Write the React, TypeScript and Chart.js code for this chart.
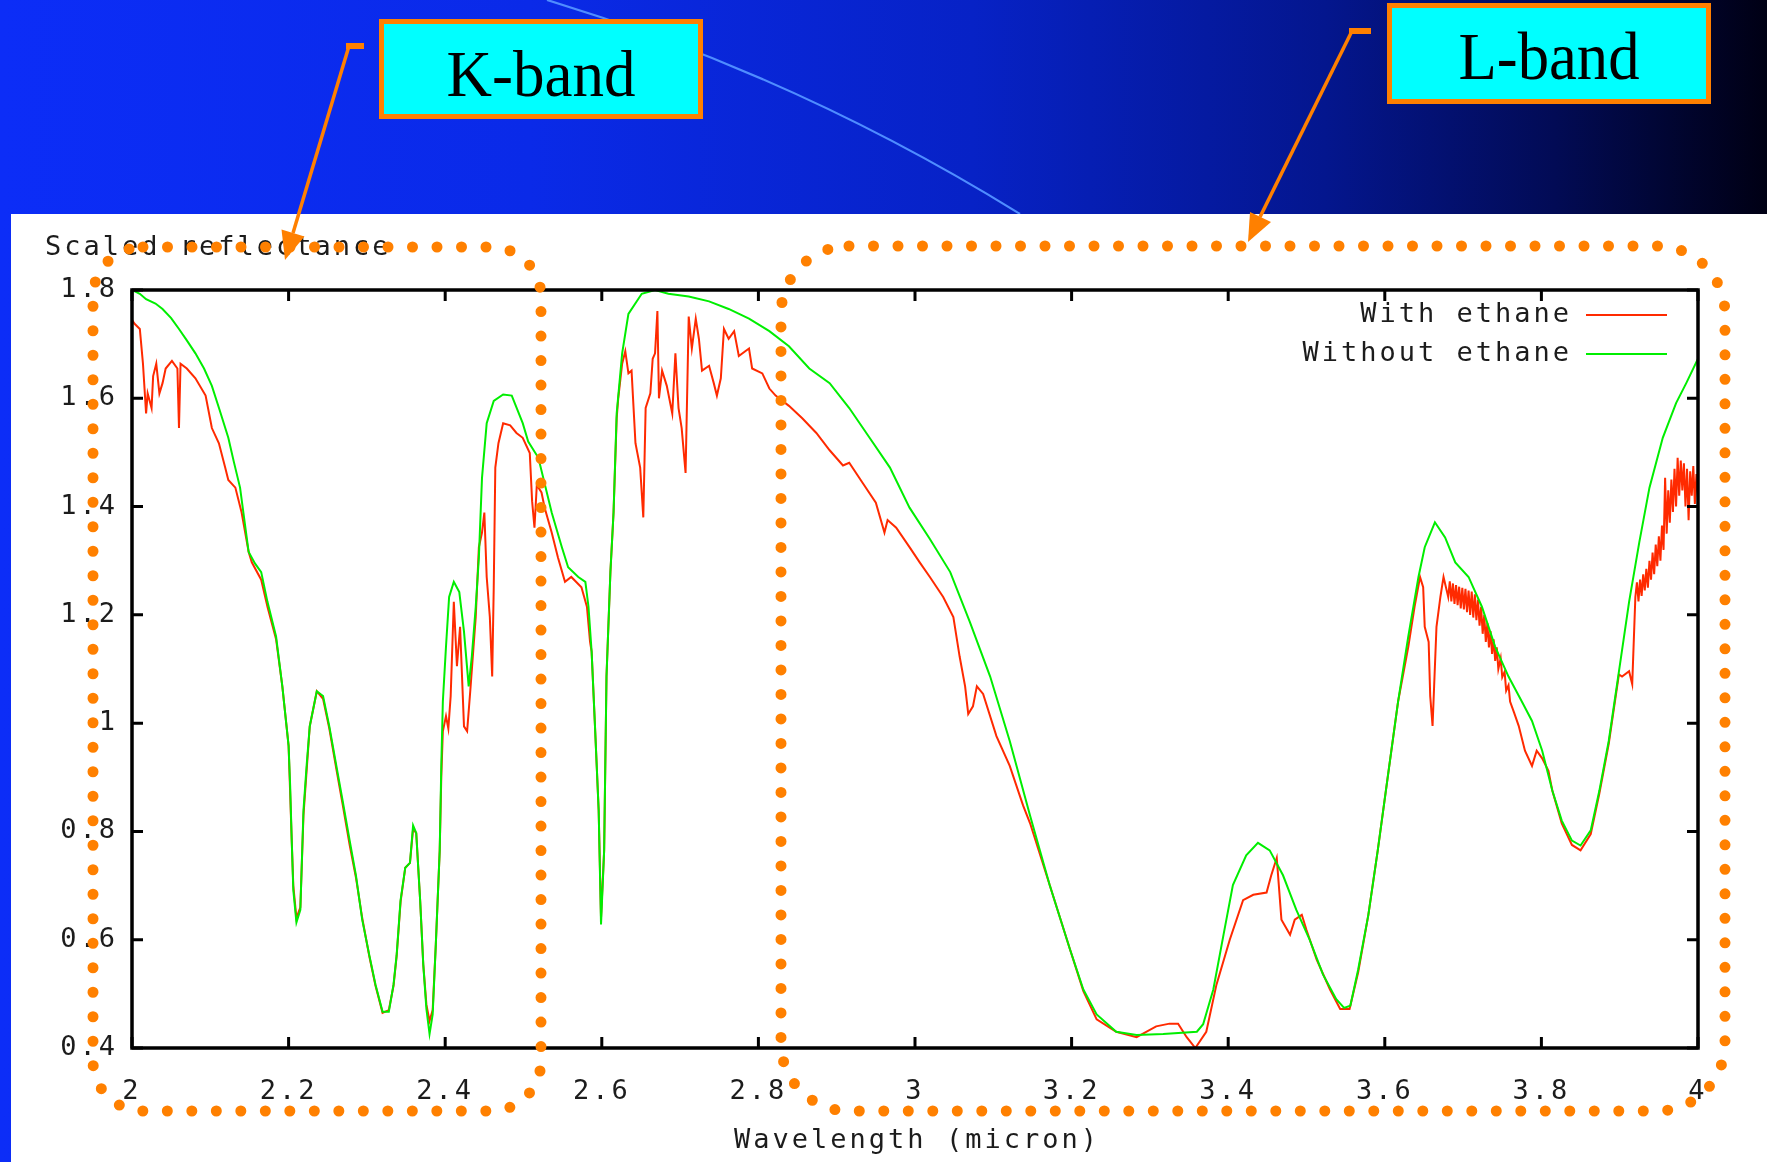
import React, { useEffect, useRef } from 'react';
import { Chart, registerables } from 'chart.js';

Chart.register(...registerables);

// ---------- data ----------
const seriesLabels = ['With ethane', 'Without ethane'];
const seriesColors = ['#ff2a00', '#00ee00'];

const wavelengthWithout = [
  2.000, 2.010, 2.018, 2.030, 2.039, 2.050, 2.060, 2.070, 2.081, 2.092, 2.102, 2.112, 2.123, 2.130, 2.138,
  2.149, 2.157, 2.165, 2.173, 2.184, 2.192, 2.200,
  2.202, 2.204, 2.206, 2.210, 2.215, 2.219, 2.223, 2.227, 2.236, 2.244, 2.252, 2.261, 2.269, 2.278, 2.286,
  2.294, 2.303, 2.311, 2.320, 2.328, 2.334, 2.338, 2.343, 2.349, 2.355, 2.359, 2.363, 2.368, 2.372, 2.376,
  2.380, 2.384, 2.388, 2.393, 2.395, 2.397, 2.401, 2.405, 2.411, 2.418, 2.424, 2.430, 2.434, 2.439, 2.443,
  2.447, 2.453, 2.462, 2.474, 2.485, 2.499, 2.506, 2.519, 2.536, 2.549, 2.557, 2.570, 2.579, 2.583, 2.587,
  2.591, 2.596, 2.599, 2.603, 2.606, 2.611, 2.615, 2.619, 2.626, 2.634, 2.651, 2.668, 2.685, 2.711, 2.737,
  2.762, 2.788, 2.814, 2.839, 2.865, 2.891, 2.916, 2.942, 2.968, 2.993, 3.019, 3.045, 3.070, 3.096, 3.121,
  3.147, 3.172, 3.198, 3.215, 3.232, 3.257, 3.283, 3.317, 3.360, 3.368, 3.381, 3.394, 3.406, 3.423, 3.438,
  3.453, 3.470, 3.487, 3.504, 3.521, 3.538, 3.548, 3.556, 3.566, 3.579, 3.591, 3.604, 3.617, 3.630, 3.643,
  3.651, 3.664, 3.677, 3.690, 3.707, 3.724, 3.741, 3.758, 3.775, 3.788, 3.801, 3.814, 3.826, 3.839, 3.850,
  3.863, 3.874, 3.886, 3.899, 3.912, 3.925, 3.938, 3.955, 3.972, 3.985, 4.000,
];
const reflectanceWithout = [
  1.800, 1.793, 1.783, 1.775, 1.765, 1.748, 1.728, 1.707, 1.683, 1.655, 1.623, 1.578, 1.527, 1.483, 1.435,
  1.316, 1.295, 1.279, 1.224, 1.160, 1.068, 0.958,
  0.884, 0.783, 0.692, 0.632, 0.655, 0.839, 0.921, 0.994, 1.059, 1.050, 0.994, 0.921, 0.857, 0.783, 0.719,
  0.637, 0.572, 0.517, 0.467, 0.467, 0.517, 0.572, 0.673, 0.733, 0.742, 0.811, 0.797, 0.673, 0.554, 0.472,
  0.426, 0.462, 0.591, 0.765, 0.921, 1.040, 1.141, 1.233, 1.261, 1.242, 1.169, 1.068, 1.123, 1.215, 1.306,
  1.453, 1.554, 1.595, 1.607, 1.605, 1.554, 1.520, 1.490, 1.389, 1.325, 1.288, 1.270, 1.261, 1.215, 1.132,
  1.004, 0.839, 0.628, 0.765, 1.086, 1.279, 1.389, 1.572, 1.683, 1.756, 1.793, 1.800, 1.793, 1.788, 1.779,
  1.765, 1.747, 1.724, 1.696, 1.655, 1.628, 1.582, 1.527, 1.472, 1.398, 1.340, 1.279, 1.187, 1.086, 0.967,
  0.829, 0.701, 0.582, 0.508, 0.462, 0.430, 0.424, 0.426, 0.430, 0.444, 0.508, 0.609, 0.701, 0.756, 0.779,
  0.765, 0.719, 0.655, 0.600, 0.536, 0.490, 0.474, 0.478, 0.545, 0.646, 0.765, 0.903, 1.040, 1.160, 1.270,
  1.325, 1.371, 1.343, 1.297, 1.270, 1.215, 1.141, 1.086, 1.040, 1.004, 0.949, 0.875, 0.820, 0.783, 0.774,
  0.802, 0.875, 0.967, 1.095, 1.224, 1.334, 1.435, 1.527, 1.591, 1.628, 1.673,
];

const wavelengthWith = [
  2.000, 2.003, 2.010, 2.014, 2.018, 2.020, 2.025, 2.027, 2.031, 2.035, 2.039, 2.043, 2.051, 2.058, 2.060,
  2.062, 2.070, 2.081, 2.094, 2.102, 2.111, 2.119, 2.123, 2.132, 2.140, 2.149, 2.153, 2.165, 2.173, 2.184,
  2.192, 2.200, 2.204, 2.206, 2.210, 2.215, 2.219, 2.227, 2.236, 2.244, 2.252, 2.261, 2.269, 2.278, 2.286,
  2.294, 2.303, 2.311, 2.320, 2.328, 2.334, 2.338, 2.343, 2.349, 2.355, 2.359, 2.363, 2.368, 2.372, 2.376,
  2.380, 2.384, 2.388, 2.393, 2.395, 2.397, 2.401, 2.404, 2.407, 2.411, 2.415, 2.419, 2.424, 2.428, 2.432,
  2.439, 2.443, 2.447, 2.450, 2.453, 2.457, 2.460, 2.462, 2.464, 2.468, 2.474, 2.483, 2.491, 2.499, 2.508,
  2.511, 2.514, 2.517, 2.523, 2.527, 2.536, 2.544, 2.553, 2.561, 2.574, 2.581, 2.585, 2.587, 2.591, 2.596,
  2.599, 2.603, 2.606, 2.611, 2.615, 2.619, 2.621, 2.626, 2.630, 2.634, 2.638, 2.643, 2.649, 2.653, 2.656,
  2.662, 2.665, 2.668, 2.671, 2.673, 2.677, 2.683, 2.690, 2.694, 2.698, 2.702, 2.707, 2.711, 2.715, 2.720,
  2.724, 2.728, 2.737, 2.743, 2.747, 2.752, 2.756, 2.762, 2.769, 2.775, 2.788, 2.792, 2.805, 2.814, 2.822,
  2.839, 2.856, 2.874, 2.891, 2.908, 2.916, 2.933, 2.950, 2.961, 2.965, 2.976, 2.993, 3.006, 3.019, 3.036,
  3.049, 3.057, 3.064, 3.068, 3.074, 3.079, 3.087, 3.104, 3.121, 3.138, 3.147, 3.172, 3.198, 3.215, 3.232,
  3.257, 3.283, 3.308, 3.325, 3.336, 3.347, 3.358, 3.372, 3.385, 3.402, 3.419, 3.432, 3.449, 3.455, 3.462,
  3.468, 3.479, 3.485, 3.494, 3.500, 3.513, 3.530, 3.543, 3.555, 3.566, 3.579, 3.591, 3.604, 3.617, 3.630,
  3.638, 3.645, 3.649, 3.651, 3.656, 3.658, 3.661, 3.663, 3.666, 3.671, 3.675, 3.681, 3.683, 3.685, 3.687,
  3.689, 3.691, 3.693, 3.695, 3.697, 3.699, 3.701, 3.703, 3.705, 3.707, 3.709, 3.711, 3.713, 3.715, 3.717,
  3.719, 3.721, 3.723, 3.725, 3.727, 3.729, 3.731, 3.733, 3.735, 3.737, 3.739, 3.741, 3.743, 3.745, 3.748,
  3.750, 3.753, 3.755, 3.758, 3.760, 3.765, 3.771, 3.779, 3.788, 3.794, 3.801, 3.809, 3.814, 3.826, 3.839,
  3.850, 3.863, 3.874, 3.886, 3.899, 3.903, 3.912, 3.916, 3.920, 3.922, 3.924, 3.926, 3.928, 3.930, 3.932,
  3.934, 3.936, 3.938, 3.940, 3.942, 3.944, 3.946, 3.948, 3.950, 3.952, 3.954, 3.956, 3.958, 3.960, 3.962,
  3.964, 3.966, 3.968, 3.970, 3.972, 3.974, 3.976, 3.978, 3.980, 3.982, 3.984, 3.986, 3.988, 3.990, 3.992,
  3.994, 3.996, 3.998, 4.000,
];
const reflectanceWith = [
  1.745, 1.738, 1.728, 1.664, 1.572, 1.609, 1.582, 1.641, 1.664, 1.609, 1.628, 1.655, 1.669, 1.655, 1.545,
  1.664, 1.655, 1.637, 1.605, 1.545, 1.517, 1.472, 1.449, 1.435, 1.389, 1.316, 1.297, 1.265, 1.215, 1.155,
  1.068, 0.958, 0.783, 0.700, 0.640, 0.660, 0.830, 0.994, 1.059, 1.045, 0.990, 0.915, 0.850, 0.775, 0.715,
  0.640, 0.570, 0.515, 0.465, 0.470, 0.515, 0.570, 0.670, 0.733, 0.742, 0.805, 0.797, 0.673, 0.554, 0.480,
  0.450, 0.470, 0.591, 0.765, 0.900, 0.985, 1.013, 0.990, 1.050, 1.224, 1.105, 1.178, 0.994, 0.985, 1.059,
  1.196, 1.325, 1.352, 1.389, 1.270, 1.196, 1.086, 1.251, 1.472, 1.517, 1.554, 1.550, 1.536, 1.527, 1.499,
  1.410, 1.361, 1.440, 1.426, 1.398, 1.352, 1.306, 1.261, 1.270, 1.251, 1.215, 1.150, 1.132, 1.004, 0.839,
  0.640, 0.765, 1.086, 1.279, 1.389, 1.563, 1.600, 1.664, 1.687, 1.646, 1.651, 1.517, 1.472, 1.380, 1.582,
  1.609, 1.673, 1.683, 1.761, 1.600, 1.651, 1.623, 1.572, 1.683, 1.582, 1.545, 1.462, 1.751, 1.692, 1.747,
  1.710, 1.651, 1.660, 1.628, 1.605, 1.637, 1.728, 1.710, 1.724, 1.678, 1.692, 1.655, 1.646, 1.618, 1.605,
  1.586, 1.563, 1.536, 1.504, 1.476, 1.481, 1.444, 1.407, 1.352, 1.375, 1.361, 1.325, 1.297, 1.270, 1.233,
  1.196, 1.123, 1.068, 1.017, 1.031, 1.068, 1.054, 0.976, 0.921, 0.848, 0.815, 0.701, 0.582, 0.505, 0.453,
  0.430, 0.420, 0.440, 0.445, 0.445, 0.420, 0.400, 0.430, 0.517, 0.600, 0.673, 0.683, 0.687, 0.719, 0.751,
  0.637, 0.609, 0.637, 0.646, 0.618, 0.563, 0.508, 0.472, 0.472, 0.540, 0.646, 0.765, 0.903, 1.040, 1.141,
  1.215, 1.270, 1.251, 1.178, 1.150, 1.050, 0.995, 1.068, 1.178, 1.233, 1.270, 1.233, 1.262, 1.225, 1.258,
  1.220, 1.255, 1.218, 1.252, 1.212, 1.250, 1.210, 1.248, 1.205, 1.245, 1.200, 1.243, 1.195, 1.238, 1.190,
  1.228, 1.180, 1.215, 1.165, 1.200, 1.150, 1.185, 1.140, 1.170, 1.128, 1.155, 1.115, 1.140, 1.100, 1.120,
  1.085, 1.095, 1.060, 1.070, 1.040, 1.020, 0.995, 0.949, 0.921, 0.949, 0.935, 0.912, 0.875, 0.815, 0.775,
  0.765, 0.795, 0.870, 0.962, 1.090, 1.086, 1.096, 1.072, 1.233, 1.260, 1.225, 1.265, 1.235, 1.275, 1.245,
  1.285, 1.250, 1.300, 1.265, 1.315, 1.275, 1.330, 1.290, 1.345, 1.300, 1.365, 1.320, 1.453, 1.350, 1.430,
  1.370, 1.450, 1.390, 1.470, 1.400, 1.490, 1.420, 1.485, 1.430, 1.480, 1.400, 1.470, 1.375, 1.465, 1.420,
  1.475, 1.405, 1.460, 1.417,
];

const xTicks = [2, 2.2, 2.4, 2.6, 2.8, 3, 3.2, 3.4, 3.6, 3.8, 4];
const yTicks = [0.4, 0.6, 0.8, 1, 1.2, 1.4, 1.6, 1.8];
const yAxisTitle = 'Scaled reflectance';
const xAxisTitle = 'Wavelength (micron)';
const bandLabels = ['K-band', 'L-band'];

// ---------- styling ----------
const W = 1767;
const H = 1162;
const MONO = "'DejaVu Sans Mono', 'Liberation Mono', monospace";
const FONT_SIZE = 27;
const TEXT_COLOR = '#1c1c1c';
const ORANGE = '#ff8000';

const gnuplotPlugin = {
  id: 'gnuplotDecor',
  beforeDraw(chart: any) {
    chart.ctx.letterSpacing = '3px';
  },
  afterDatasetsDraw(chart: any) {
    const { ctx, chartArea } = chart;
    const { left, right, top, bottom } = chartArea;
    const xs = chart.scales.x;
    const ys = chart.scales.y;
    ctx.save();
    ctx.strokeStyle = '#000';
    ctx.lineWidth = 3.5;
    ctx.strokeRect(left, top, right - left, bottom - top);
    ctx.lineWidth = 3;
    const tl = 11;
    ctx.beginPath();
    xTicks.forEach((v) => {
      const px = xs.getPixelForValue(v);
      ctx.moveTo(px, bottom);
      ctx.lineTo(px, bottom - tl);
      ctx.moveTo(px, top);
      ctx.lineTo(px, top + tl);
    });
    yTicks.forEach((v) => {
      const py = ys.getPixelForValue(v);
      ctx.moveTo(left, py);
      ctx.lineTo(left + tl, py);
      ctx.moveTo(right, py);
      ctx.lineTo(right - tl, py);
    });
    ctx.stroke();

    // legend (gnuplot style, text right-aligned with sample to the right)
    ctx.letterSpacing = '3px';
    ctx.font = `${FONT_SIZE}px ${MONO}`;
    ctx.fillStyle = TEXT_COLOR;
    ctx.textBaseline = 'middle';
    ctx.textAlign = 'right';
    const legendRows = [315, 354];
    chart.data.datasets.forEach((ds: any, i: number) => {
      const y = legendRows[i];
      ctx.fillText(ds.label, 1572, y);
      ctx.strokeStyle = ds.borderColor;
      ctx.lineWidth = 2;
      ctx.beginPath();
      ctx.moveTo(1586, y);
      ctx.lineTo(1667, y);
      ctx.stroke();
    });

    // axis titles
    ctx.textAlign = 'left';
    ctx.fillText(yAxisTitle, 45, 248);
    ctx.textAlign = 'center';
    ctx.fillText(xAxisTitle, 917, 1141);
    ctx.restore();
  },
};

function App() {
  const canvasRef = useRef<HTMLCanvasElement | null>(null);

  useEffect(() => {
    if (!canvasRef.current) return;
    const chart = new Chart(canvasRef.current, {
      type: 'line',
      data: {
        datasets: [
          {
            label: seriesLabels[0],
            data: wavelengthWith.map((x, i) => ({ x, y: reflectanceWith[i] })),
            borderColor: seriesColors[0],
            borderWidth: 2,
            pointRadius: 0,
            tension: 0,
            fill: false,
            order: 1,
          },
          {
            label: seriesLabels[1],
            data: wavelengthWithout.map((x, i) => ({ x, y: reflectanceWithout[i] })),
            borderColor: seriesColors[1],
            borderWidth: 2,
            pointRadius: 0,
            tension: 0,
            fill: false,
            order: 0,
          },
        ],
      },
      options: {
        animation: false,
        responsive: false,
        devicePixelRatio: 1,
        layout: { padding: { left: 32, top: 290, right: 69, bottom: 34 } },
        plugins: {
          legend: { display: false },
          tooltip: { enabled: false },
          title: { display: false },
        },
        scales: {
          x: {
            type: 'linear',
            min: 2,
            max: 4,
            afterBuildTicks: (scale: any) => {
              scale.ticks = xTicks.map((v) => ({ value: v }));
            },
            afterFit: (scale: any) => {
              scale.height = 80;
            },
            grid: { display: false, drawTicks: false },
            border: { display: false },
            ticks: {
              autoSkip: false,
              maxRotation: 0,
              padding: 28,
              color: TEXT_COLOR,
              font: { family: MONO, size: FONT_SIZE },
              callback: (v: any) => String(v),
            },
          },
          y: {
            type: 'linear',
            min: 0.4,
            max: 1.8,
            afterBuildTicks: (scale: any) => {
              scale.ticks = yTicks.map((v) => ({ value: v }));
            },
            afterFit: (scale: any) => {
              scale.width = 100;
            },
            grid: { display: false, drawTicks: false },
            border: { display: false },
            ticks: {
              autoSkip: false,
              padding: 14,
              color: TEXT_COLOR,
              font: { family: MONO, size: FONT_SIZE },
              callback: (v: any) => String(v),
            },
          },
        },
      },
      plugins: [gnuplotPlugin],
    } as any);
    return () => chart.destroy();
  }, []);

  const dot = {
    fill: 'none',
    stroke: ORANGE,
    strokeWidth: 11,
    strokeLinecap: 'round' as const,
    strokeDasharray: '0 24.5',
  };

  return (
    <div
      style={{
        position: 'fixed',
        left: 0,
        top: 0,
        width: W,
        height: H,
        overflow: 'hidden',
        background:
          'linear-gradient(to right, #0c2df7 0%, #0a2ae8 30%, #0722c6 55%, #04168e 75%, #020b55 88%, #000014 100%)',
      }}
    >
      <svg width={W} height={H} style={{ position: 'absolute', left: 0, top: 0 }}>
        <path d="M547,0 A2000,2000 0 0,1 1020,214" fill="none" stroke="#4f8dff" strokeWidth={2.2} />
      </svg>
      <div style={{ position: 'absolute', left: 11, top: 214, width: W - 11, height: H - 214, background: '#fff' }} />
      <canvas ref={canvasRef} width={W} height={H} style={{ position: 'absolute', left: 0, top: 0, width: W, height: H }} />
      <svg width={W} height={H} style={{ position: 'absolute', left: 0, top: 0, pointerEvents: 'none' }}>
        <rect x={93} y={247} width={448} height={864} rx={50} ry={50} {...dot} />
        <rect x={781} y={246} width={944} height={865} rx={68} ry={68} {...dot} />

        <rect x={346} y={43} width={18} height={6} fill={ORANGE} />
        <line x1={349} y1={46} x2={293} y2={233} stroke={ORANGE} strokeWidth={3.5} />
        <polygon points="285,260 304.5,236.5 281.5,229.5" fill={ORANGE} />

        <rect x={1349} y={28} width={22} height={6} fill={ORANGE} />
        <line x1={1352} y1={31} x2={1260} y2={217} stroke={ORANGE} strokeWidth={3.5} />
        <polygon points="1248,242 1271,222 1250,212" fill={ORANGE} />

        <rect x={381.5} y={21.5} width={319} height={95} fill="#00ffff" stroke={ORANGE} strokeWidth={5} />
        <text
          x={541}
          y={96}
          fontFamily="'Liberation Serif', 'Times New Roman', serif"
          fontSize={66}
          textAnchor="middle"
          textLength={189}
          lengthAdjust="spacingAndGlyphs"
          fill="#000"
        >
          {bandLabels[0]}
        </text>

        <rect x={1389.5} y={5.5} width={319} height={96} fill="#00ffff" stroke={ORANGE} strokeWidth={5} />
        <text
          x={1549}
          y={79}
          fontFamily="'Liberation Serif', 'Times New Roman', serif"
          fontSize={67}
          textAnchor="middle"
          textLength={181}
          lengthAdjust="spacingAndGlyphs"
          fill="#000"
        >
          {bandLabels[1]}
        </text>
      </svg>
    </div>
  );
}

export default App;
